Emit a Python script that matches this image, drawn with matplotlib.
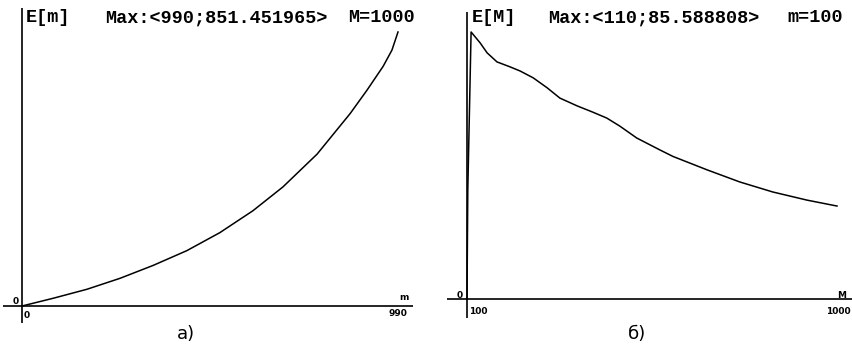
import numpy as np
import matplotlib
matplotlib.use('Agg')
import matplotlib.pyplot as plt

# a) E[m] при M=1000
m_vals = [0, 82, 171, 258, 345, 434, 521, 608, 687, 777, 864, 908, 951, 974, 990]
e_m = [0, 24, 52, 86, 126, 172, 228, 296, 370, 472, 598, 670, 745, 795, 851.45]

# б) E[M] при m=100
M_vals = [100, 102, 110, 132, 149, 173, 205, 229, 261, 295, 326, 368, 406,
          440, 472, 513, 569, 601, 684, 764, 844, 927, 1000]
e_M = [0, 35, 85.59, 82.1, 78.9, 76.0, 74.4, 73.1, 70.9, 67.7, 64.4, 61.9,
       59.9, 58.0, 55.4, 51.6, 47.8, 45.7, 41.4, 37.5, 34.3, 31.7, 29.8]

W, H = 853, 348

def fx(x):
    return x / W

def fy(y):
    return 1 - y / H

fig = plt.figure(figsize=(W / 100, H / 100), dpi=100)
fig.patch.set_facecolor('white')

mono = dict(family='Liberation Mono', weight='bold', fontsize=13.3, va='center')
small = dict(family='DejaVu Sans', weight='bold', fontsize=6.5)

# левый график
ax1 = fig.add_axes([fx(3), fy(323), (413 - 3) / W, (323 - 8) / H])
ax1.set_xlim(-50, 1029.5)
ax1.set_ylim(-52.8, 926)
ax1.axis('off')
ax1.axhline(0, color='black', lw=1.2)
ax1.axvline(0, color='black', lw=1.2)
ax1.plot(m_vals, e_m, color='black', lw=1.1)

fig.text(fx(26), fy(18), 'E[m]', ha='left', **mono)
fig.text(fx(105), fy(18), 'Max:<990;851.451965>', ha='left', **mono)
fig.text(fx(348), fy(18), 'M=1000', ha='left', **mono)
fig.text(fx(16), fy(301), '0', ha='center', va='center', **small)
fig.text(fx(27), fy(315), '0', ha='center', va='center', **small)
fig.text(fx(404), fy(297), 'm', ha='center', va='center', **small)
fig.text(fx(398), fy(313), '990', ha='center', va='center', **small)
fig.text(fx(186), fy(334), 'a)', ha='center', va='center', fontsize=13)

# правый график
ax2 = fig.add_axes([fx(447), fy(318), (852 - 447) / W, (318 - 12) / H])
ax2.set_xlim(51.4, 1036.5)
ax2.set_ylim(-6.09, 92.0)
ax2.axis('off')
ax2.axhline(0, color='black', lw=1.2)
ax2.axvline(100, color='black', lw=1.2)
ax2.plot(M_vals, e_M, color='black', lw=1.1)

fig.text(fx(472), fy(18), 'E[M]', ha='left', **mono)
fig.text(fx(548), fy(18), 'Max:<110;85.588808>', ha='left', **mono)
fig.text(fx(787), fy(18), 'm=100', ha='left', **mono)
fig.text(fx(460), fy(295), '0', ha='center', va='center', **small)
fig.text(fx(478), fy(311), '100', ha='center', va='center', **small)
fig.text(fx(842), fy(295), 'M', ha='center', va='center', **small)
fig.text(fx(838), fy(311), '1000', ha='center', va='center', **small)
fig.text(fx(637), fy(334), 'б)', ha='center', va='center', fontsize=13)

fig.savefig('out.png', dpi=100, facecolor='white')
